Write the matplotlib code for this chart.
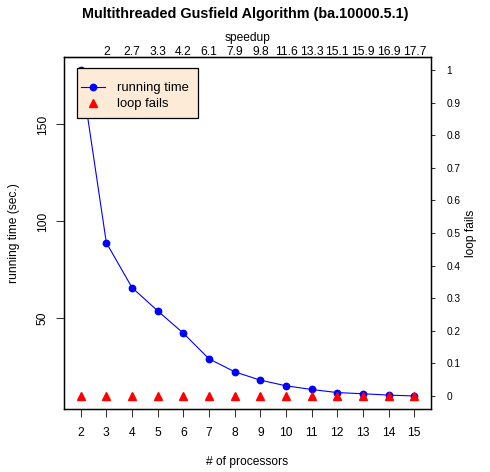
import matplotlib
matplotlib.use("Agg")
import matplotlib.pyplot as plt
from matplotlib.patches import Rectangle

# ── Данные ─────────────────────────────────────────────────────────────────────
processors = [2, 3, 4, 5, 6, 7, 8, 9, 10, 11, 12, 13, 14, 15]
running_time = [178.0, 89.0, 65.9, 53.9, 42.4, 29.2, 22.5, 18.2, 15.3, 13.4, 11.8, 11.2, 10.5, 10.06]
loop_fails = [0, 0, 0, 0, 0, 0, 0, 0, 0, 0, 0, 0, 0, 0]
speedup_pos = [3, 4, 5, 6, 7, 8, 9, 10, 11, 12, 13, 14, 15]
speedup_labels = ["2", "2.7", "3.3", "4.2", "6.1", "7.9", "9.8", "11.6", "13.3", "15.1", "15.9", "16.9", "17.7"]
time_ticks = [50, 100, 150]
fails_ticks = [0, 0.1, 0.2, 0.3, 0.4, 0.5, 0.6, 0.7, 0.8, 0.9, 1]

plt.rcParams["font.family"] = ["Liberation Sans", "DejaVu Sans"]

W, H = 490, 472
fig = plt.figure(figsize=(W / 100, H / 100), dpi=100)
# область графика в пикселях: x 64..431, y 57..409
ax = fig.add_axes([64 / W, (H - 409) / H, (431 - 64) / W, (409 - 57) / H])

ax.plot(processors, running_time, color="blue", lw=0.8, marker="o",
        markersize=4.6, label="running time")
ax.margins(x=0.04, y=0.04)
ax.set_xticks(processors)
ax.set_yticks(time_ticks)
ax.tick_params(axis="x", length=6, width=0.75, pad=7, labelsize=8.64, color="#333333")
ax.tick_params(axis="y", length=6, width=0.75, pad=5, labelsize=8.64, color="#333333")
for lab in ax.get_yticklabels():
    lab.set_rotation(90)
    lab.set_va("center")
ax.set_xlabel("# of processors", fontsize=8.64, va="center")
ax.xaxis.set_label_coords(0.5, -0.1497)
ax.set_ylabel("running time (sec.)", fontsize=8.64, va="center")
ax.yaxis.set_label_coords(-0.136, 0.5)

# правая ось — loop fails
ax2 = ax.twinx()
ax2.plot(processors, loop_fails, linestyle="none", marker="^", color="red",
         markersize=5.5, label="loop fails")
ax2.set_ylim(-0.04, 1.04)
ax2.set_yticks(fails_ticks)
ax2.set_yticklabels([f"{v:g}" for v in fails_ticks])
ax2.tick_params(axis="y", length=3, width=0.75, pad=8, labelsize=7.3, color="#333333")
ax2.set_ylabel("loop fails", fontsize=8.64, va="center")
ax2.yaxis.set_label_coords(1.109, 0.5)

# верхняя ось — speedup
top = ax.secondary_xaxis("top")
top.set_xticks(speedup_pos)
top.set_xticklabels(speedup_labels)
top.tick_params(length=0, pad=-1, labelsize=8.64)

for a in (ax, ax2):
    for s in a.spines.values():
        s.set_linewidth(0.9)
        s.set_color("black")

# рамка легенды рисуется отдельно (в R отступы сверху/снизу больше)
ax2.add_patch(Rectangle((13 / 367, 291 / 352), 121 / 367, 50 / 352,
                        transform=ax2.transAxes, facecolor="#FDEBD8",
                        edgecolor="black", lw=0.9, zorder=4))
handles = ax.get_lines() + ax2.get_lines()
leg = ax2.legend(handles, [h.get_label() for h in handles], loc="upper left",
                 bbox_to_anchor=(17 / 367, 327 / 352), fontsize=9.4,
                 frameon=False, borderpad=0, handlelength=1.85,
                 handletextpad=0.92, labelspacing=0.3, borderaxespad=0)
leg.set_zorder(5)

fig.text(0.5, 1 - 14 / H, "Multithreaded Gusfield Algorithm (ba.10000.5.1)",
         ha="center", va="center", fontsize=10.37, fontweight="bold")
fig.text((64 + 431) / 2 / W, 1 - 37.5 / H, "speedup", ha="center", va="center",
         fontsize=8.64)

fig.savefig("out.png", dpi=100)
